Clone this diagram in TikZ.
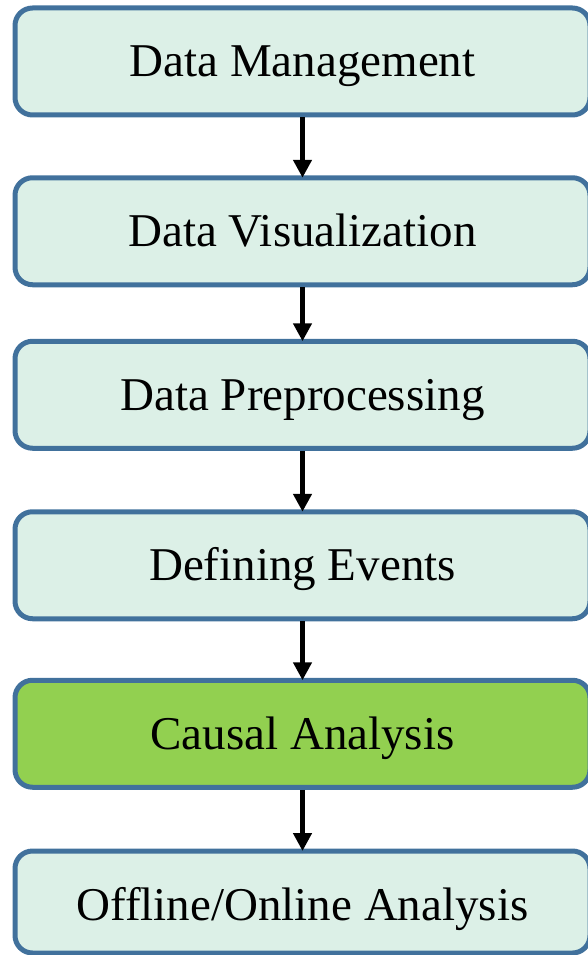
\documentclass[tikz,border=0pt]{standalone}
\usepackage{fontspec}
\setmainfont{Liberation Serif}
\usetikzlibrary{arrows.meta}
\definecolor{boxfill}{RGB}{220,240,231}
\definecolor{boxgreen}{RGB}{146,208,80}
\definecolor{boxline}{RGB}{65,113,156}
\tikzset{
  stepbox/.style={draw=boxline, line width=5pt, fill=boxfill, rounded corners=17.5pt,
    minimum width=575pt, minimum height=107pt, inner sep=0pt, outer sep=0pt,
    text height=36pt, text depth=5pt,
    font=\fontsize{47}{56}\selectfont},
  greenbox/.style={stepbox, fill=boxgreen},
  flowarrow/.style={line width=5pt, draw=black, shorten <=2.5pt,
    -{Triangle[width=18pt,length=18pt]}}
}
\begin{document}
\begin{tikzpicture}[x=1pt,y=1pt]
\useasboundingbox (0,0) rectangle (588,-955);
\clip (0,0) rectangle (588,-955);
\node[stepbox] (b1) at (302.5,-61.5) {Data Management};
\node[stepbox] (b2) at (302.5,-231.25) {Data Visualization};
\node[stepbox] (b3) at (302.5,-394.75) {Data Preprocessing};
\node[stepbox] (b4) at (302.5,-565.25) {Defining Events};
\node[greenbox] (b5) at (302.5,-733.75) {Causal Analysis};
\node[stepbox, minimum height=102pt, text height=42pt] (b6) at (302.5,-902) {Offline/Online Analysis};
\draw[flowarrow] (b1.south) -- (b2.north);
\draw[flowarrow] (b2.south) -- (b3.north);
\draw[flowarrow] (b3.south) -- (b4.north);
\draw[flowarrow] (b4.south) -- (b5.north);
\draw[flowarrow] (b5.south) -- (b6.north);
\end{tikzpicture}
\end{document}
